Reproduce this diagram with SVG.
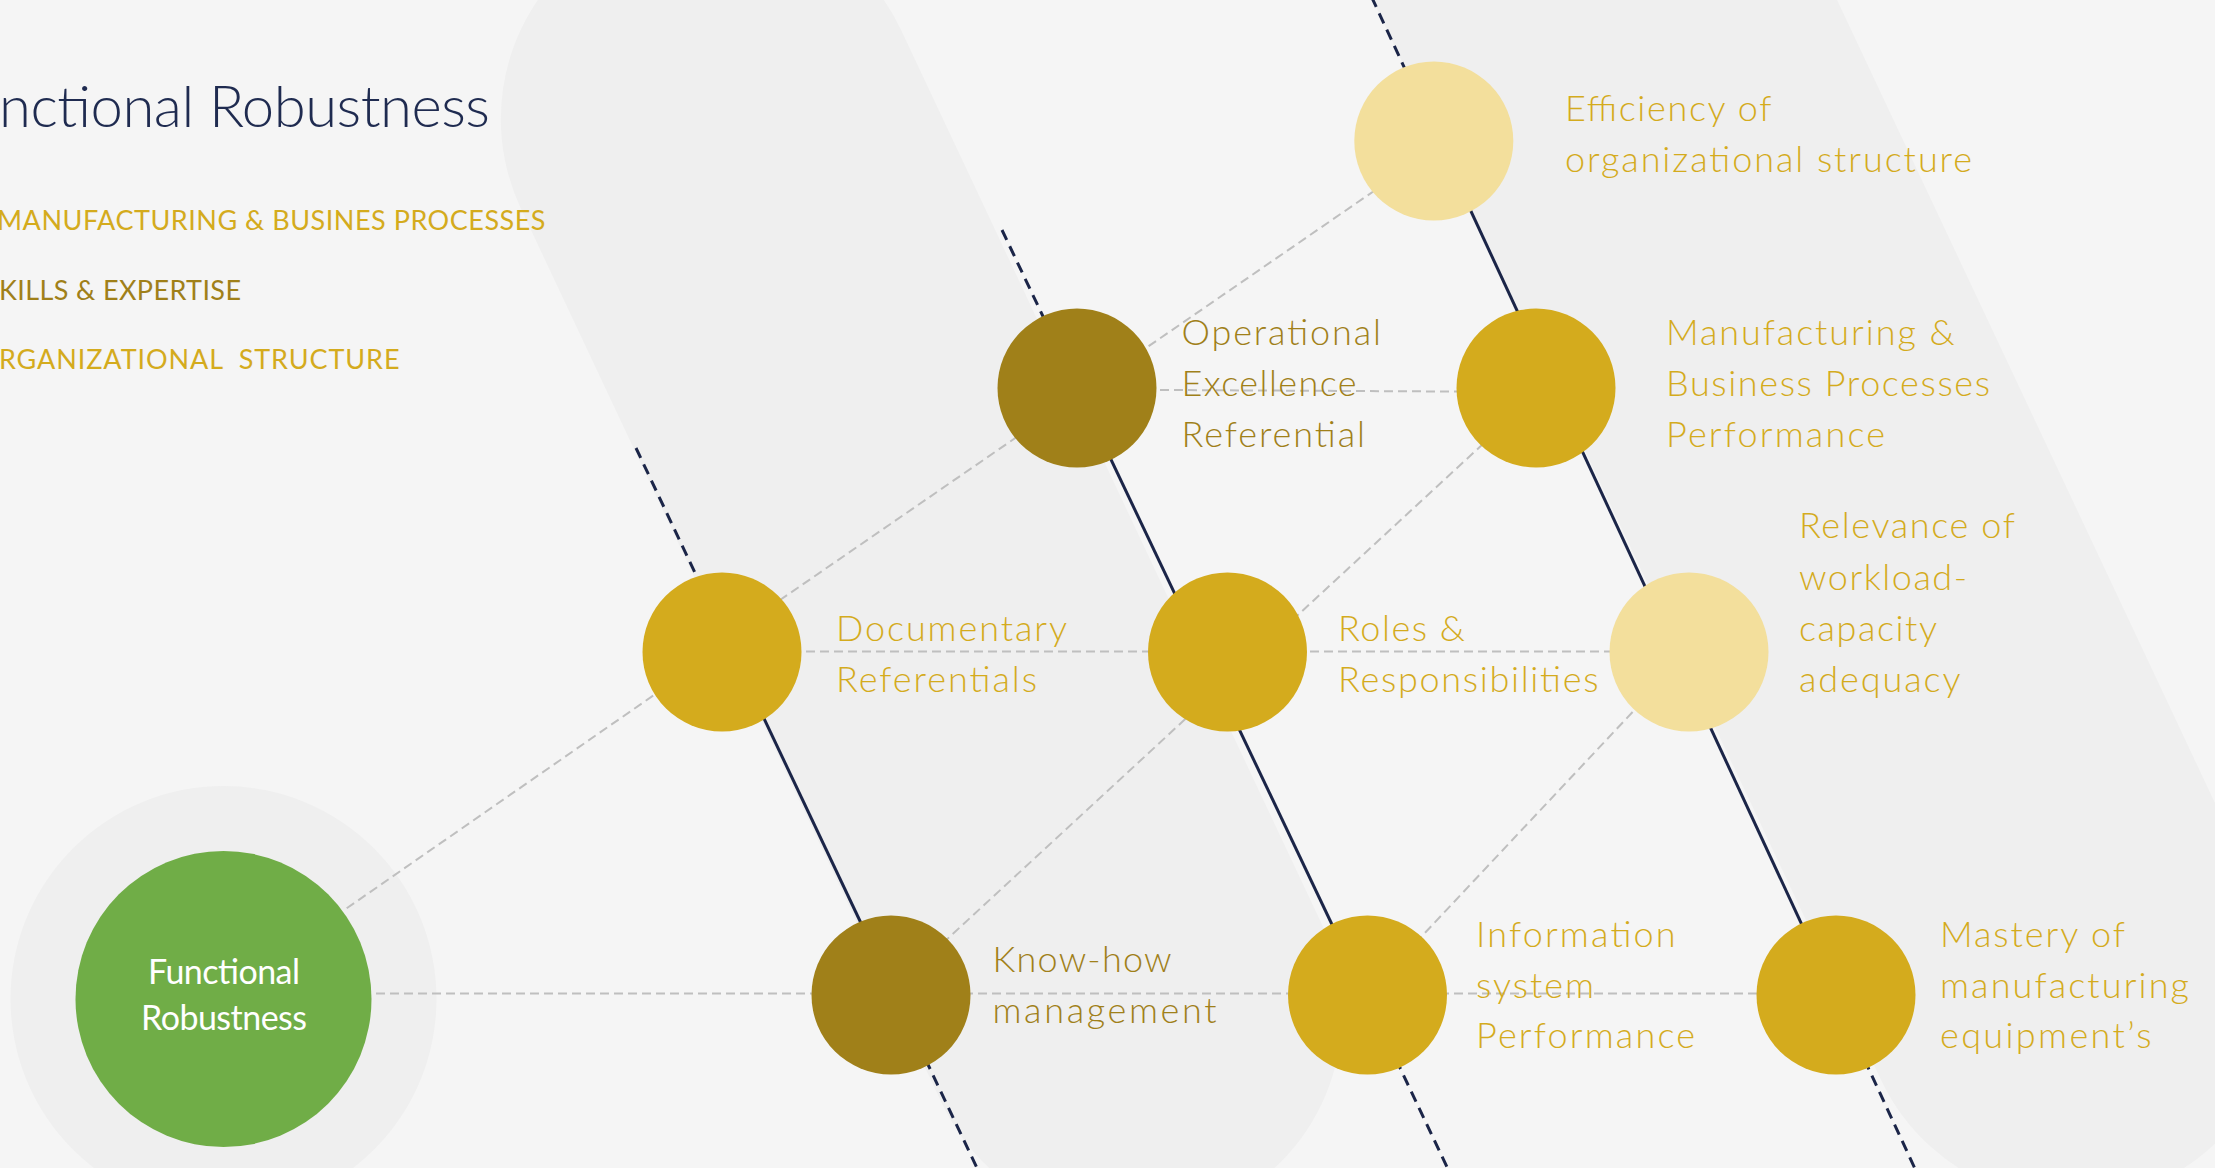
<svg xmlns="http://www.w3.org/2000/svg" width="2215" height="1168" viewBox="0 0 2215 1168">
<style>
.band{fill:#EFEFEF}
.gray{stroke:#BFBFBF;stroke-width:2;stroke-dasharray:9 5;fill:none}
.navy{stroke:#1B2548;stroke-width:3;fill:none}
.navyd{stroke:#1B2548;stroke-width:3;stroke-dasharray:11 7;fill:none}
.gold{fill:#D4AB1D}
.dark{fill:#A08019}
.light{fill:#F3DF9C}
.green{fill:#70AD47}
text{font-family:Lato,'Open Sans','Liberation Sans',sans-serif}
.lbl{font-size:36px;font-weight:300}
.tg{fill:#D4AB1D}
.td{fill:#A08019}
.leg{font-size:27px}
</style>
<rect x="0" y="0" width="2215" height="1168" fill="#F5F5F5"/>
<g id="background">
<g transform="translate(764.5,233) rotate(-25.2)"><rect class="band" x="-210" y="-336" width="420" height="1409" rx="210"/></g>
<g transform="translate(1605,0) rotate(-25.2)"><rect class="band" x="-210" y="-400" width="420" height="1705" rx="210"/></g>
<circle class="band" cx="223.5" cy="999" r="213"/>
</g>
<g id="title">
<text x="-1" y="127" font-size="58" font-weight="300" fill="#1F2B50" textLength="491">nctional Robustness</text>
<text class="leg tg" x="-3" y="230" textLength="548.5">MANUFACTURING &amp; BUSINES PROCESSES</text>
<text class="leg td" x="-1" y="300" textLength="242">KILLS &amp; EXPERTISE</text>
<text class="leg tg" x="-1" y="369" textLength="400.5" xml:space="preserve">RGANIZATIONAL  STRUCTURE</text>
</g>
<g id="connectors">
<line class="gray" x1="376" y1="993.5" x2="1836" y2="993.5"/>
<line class="gray" x1="722" y1="651.5" x2="1689" y2="651.5"/>
<line class="gray" x1="1076" y1="389.5" x2="1536" y2="392"/>
<line class="gray" x1="346.7" y1="908.3" x2="722" y2="647.8"/>
<line class="gray" x1="722" y1="640" x2="1433.5" y2="150"/>
<line class="gray" x1="891" y1="991" x2="1536" y2="395"/>
<line class="gray" x1="1367.5" y1="994" x2="1689" y2="652"/>
<line class="navyd" x1="636" y1="448" x2="732" y2="651"/>
<line class="navy" x1="732" y1="651" x2="894.6" y2="994"/>
<line class="navyd" x1="894.6" y1="994" x2="977" y2="1168"/>
<line class="navyd" x1="1002" y1="230" x2="1077" y2="388"/>
<line class="navy" x1="1077" y1="388" x2="1365" y2="994"/>
<line class="navyd" x1="1365" y1="994" x2="1447.5" y2="1168"/>
<line class="navyd" x1="1371.6" y1="-3" x2="1438.4" y2="141"/>
<line class="navy" x1="1438.4" y1="141" x2="1834" y2="994"/>
<line class="navyd" x1="1834" y1="994" x2="1914.7" y2="1168"/>
</g>
<g id="node-functional-robustness">
<circle class="green" cx="223.5" cy="999" r="148"/>
<text x="224" y="983.5" font-size="34" fill="#FFFFFF" text-anchor="middle" textLength="152">Functional</text>
<text x="224" y="1030" font-size="34" fill="#FFFFFF" text-anchor="middle" textLength="166">Robustness</text>
</g>
<g id="node-documentary">
<circle class="gold" cx="722" cy="652" r="79.5"/>
<text class="lbl tg" x="836" y="641" textLength="231">Documentary</text>
<text class="lbl tg" x="836" y="692" textLength="201">Referentials</text>
</g>
<g id="node-knowhow">
<circle class="dark" cx="891" cy="995" r="79.5"/>
<text class="lbl td" x="992.5" y="971.5" textLength="179">Know-how</text>
<text class="lbl td" x="992.5" y="1023" textLength="224">management</text>
</g>
<g id="node-opex">
<circle class="dark" cx="1077" cy="388" r="79.5"/>
<text class="lbl td" x="1181.5" y="345" textLength="199.5">Operational</text>
<text class="lbl td" x="1181.5" y="396" textLength="175">Excellence</text>
<text class="lbl td" x="1181.5" y="446.7" textLength="183.5">Referential</text>
</g>
<g id="node-roles">
<circle class="gold" cx="1227.5" cy="652" r="79.5"/>
<text class="lbl tg" x="1338" y="641" textLength="127">Roles &amp;</text>
<text class="lbl tg" x="1338" y="692" textLength="260.5">Responsibilities</text>
</g>
<g id="node-info">
<circle class="gold" cx="1367.5" cy="995" r="79.5"/>
<text class="lbl tg" x="1476" y="946.5" textLength="199.6">Information</text>
<text class="lbl tg" x="1476" y="997.5" textLength="118">system</text>
<text class="lbl tg" x="1476" y="1048" textLength="219">Performance</text>
</g>
<g id="node-efficiency">
<circle class="light" cx="1433.8" cy="141" r="79.5"/>
<text class="lbl tg" x="1565" y="121" textLength="206.5">Efficiency of</text>
<text class="lbl tg" x="1565" y="172.3" textLength="407">organizational structure</text>
</g>
<g id="node-manufacturing">
<circle class="gold" cx="1536" cy="388" r="79.5"/>
<text class="lbl tg" x="1666" y="345" textLength="288.6">Manufacturing &amp;</text>
<text class="lbl tg" x="1666" y="396" textLength="324">Business Processes</text>
<text class="lbl tg" x="1666" y="447" textLength="219">Performance</text>
</g>
<g id="node-relevance">
<circle class="light" cx="1689" cy="652" r="79.5"/>
<text class="lbl tg" x="1799" y="538" textLength="216">Relevance of</text>
<text class="lbl tg" x="1799" y="589.5" textLength="168">workload-</text>
<text class="lbl tg" x="1799" y="641" textLength="138">capacity</text>
<text class="lbl tg" x="1799" y="692" textLength="161.5">adequacy</text>
</g>
<g id="node-mastery">
<circle class="gold" cx="1836" cy="995" r="79.5"/>
<text class="lbl tg" x="1940" y="946.5" textLength="185">Mastery of</text>
<text class="lbl tg" x="1940" y="998" textLength="249">manufacturing</text>
<text class="lbl tg" x="1940" y="1048" textLength="211.5">equipment’s</text>
</g>
</svg>
